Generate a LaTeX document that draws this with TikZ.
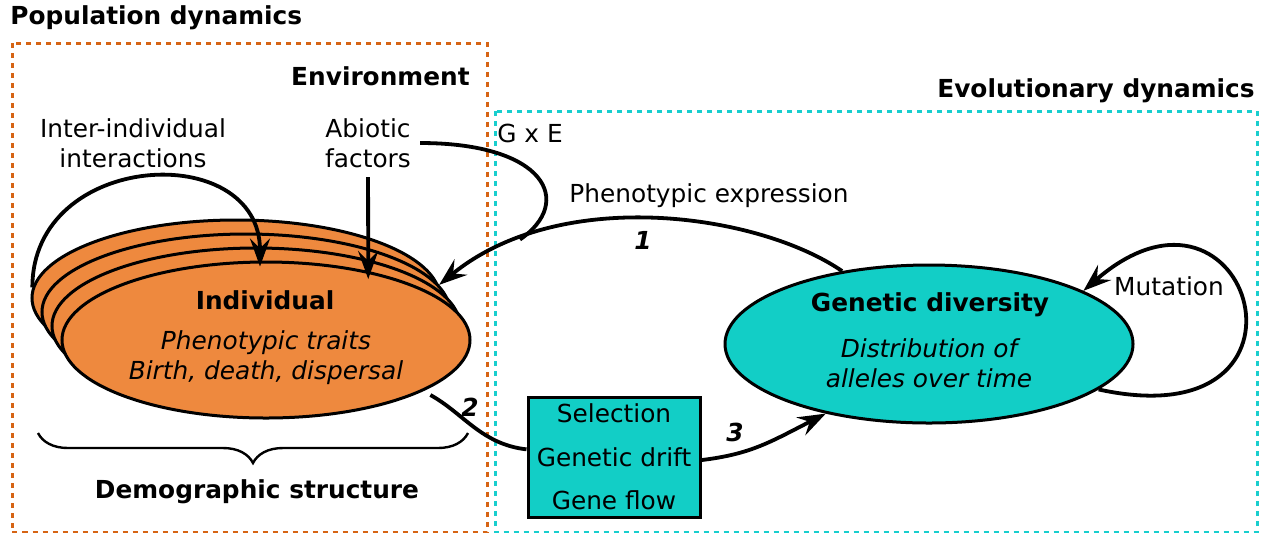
\documentclass[tikz,border=0pt]{standalone}
\usepackage{fontspec}
\setmainfont{DejaVu Sans}
\usetikzlibrary{shapes.geometric}
\usetikzlibrary{arrows.meta}
\usetikzlibrary{decorations.pathreplacing}

\definecolor{indorange}{RGB}{238,137,62}
\definecolor{gencyan}{RGB}{18,206,198}
\definecolor{popline}{RGB}{214,100,20}
\definecolor{evoline}{RGB}{24,206,206}
\newcommand{\figfont}{\fontsize{12.4}{15}\selectfont}

\begin{document}
\begin{tikzpicture}[x=0.5pt,y=-0.5pt,
  lbl/.style={inner sep=0pt,align=center,font=\figfont},
  hdr/.style={inner sep=0pt,font=\figfont\bfseries},
  num/.style={inner sep=0pt,font=\figfont\bfseries\itshape},
  indiv/.style={ellipse,draw,line width=1.5pt,fill=indorange,minimum width=204pt,minimum height=78pt,inner sep=0pt},
  genell/.style={ellipse,draw,line width=1.5pt,fill=gencyan,minimum width=204pt,minimum height=79pt,inner sep=0pt},
  selbox/.style={rectangle,draw,line width=1.5pt,fill=gencyan,minimum width=86pt,minimum height=60pt,inner sep=0pt,align=center,font=\fontsize{12.4}{21.75}\selectfont},
  arr/.style={line width=1.9pt,-{Stealth[length=14pt,width=10pt,inset=5pt]}},
  link/.style={line width=1.9pt},
  zone/.style={line width=1.5pt,dash pattern=on 2.5pt off 2.5pt}]
\useasboundingbox (0,0) rectangle (1267,532);

% dotted zones
\draw[zone,draw=popline] (12,43) rectangle (487,532.5);
\draw[zone,draw=evoline] (495,111) rectangle (1257,532.5);
\node[hdr,anchor=west] (popdyn) at (10,18) {Population dynamics};
\node[hdr,anchor=east] (env) at (470,76) {Environment};
\node[hdr,anchor=east] (evodyn) at (1255,91) {Evolutionary dynamics};

% individuals
\foreach \k in {3,2,1}
  \node[indiv] (ind\k) at ({266-10*\k},{340-14*\k}) {};
\node[indiv] (ind) at (266,340) {};
\node[hdr] (indtitle) at (265,300) {Individual};
\node[lbl,font=\figfont\itshape] (indbody) at (266,358) {Phenotypic traits\\Birth, death, dispersal};

\node[lbl] (inter) at (133,143) {Inter-individual\\interactions};
\node[lbl,inner sep=4.5pt] (abio) at (368,143) {Abiotic\\factors};
\node[lbl,anchor=west] (gxelbl) at (497,133) {G x E};

\draw[arr] (ind3.177) .. controls +(0,-137) and +(0,-128) .. ([xshift=-3pt,yshift=-3pt]ind.north);
\draw[arr] (abio) -- ([yshift=-4pt]ind.34);

\draw[decorate,decoration={brace,mirror,amplitude=15pt},line width=1.2pt] (38,433) -- (468,433);
\node[hdr] (demo) at (257,492) {Demographic structure};

% genetic diversity
\node[genell] (gen) at (929,344) {};
\node[hdr] (gentitle) at (930,305) {Genetic diversity};
\node[lbl,font=\figfont\itshape] (genbody) at (929,363) {Distribution of\\alleles over time};

\node[selbox] (sel) at (614,457) {Selection\\Genetic drift\\Gene flow};

% arrows
\draw[arr] (gen.140) .. controls +(-83,-57) and +(122,-100) .. (ind2.8) coordinate[pos=0.8] (gxe);
\draw[link] (abio.east) .. controls +(125,0) and +(55,-38) .. (gxe);
\node[lbl] (phen) at (709,196) {Phenotypic expression};
\node[num] (one) at (643,240) {1};

\draw[link,shorten <=4pt] (ind.-18) .. controls +(40,22) and +(-45,-5) .. (sel.175);
\node[num] (two) at (470,407) {2};
\draw[arr] (sel.-2) .. controls +(50,-6) and +(-55,28) .. (gen.214);
\node[num] (three) at (735,432) {3};

\draw[arr] (gen.-15) .. controls +(238,52) and +(167,-145) .. (gen.19);
\node[lbl] (mut) at (1169,286) {Mutation};

\end{tikzpicture}
\end{document}
